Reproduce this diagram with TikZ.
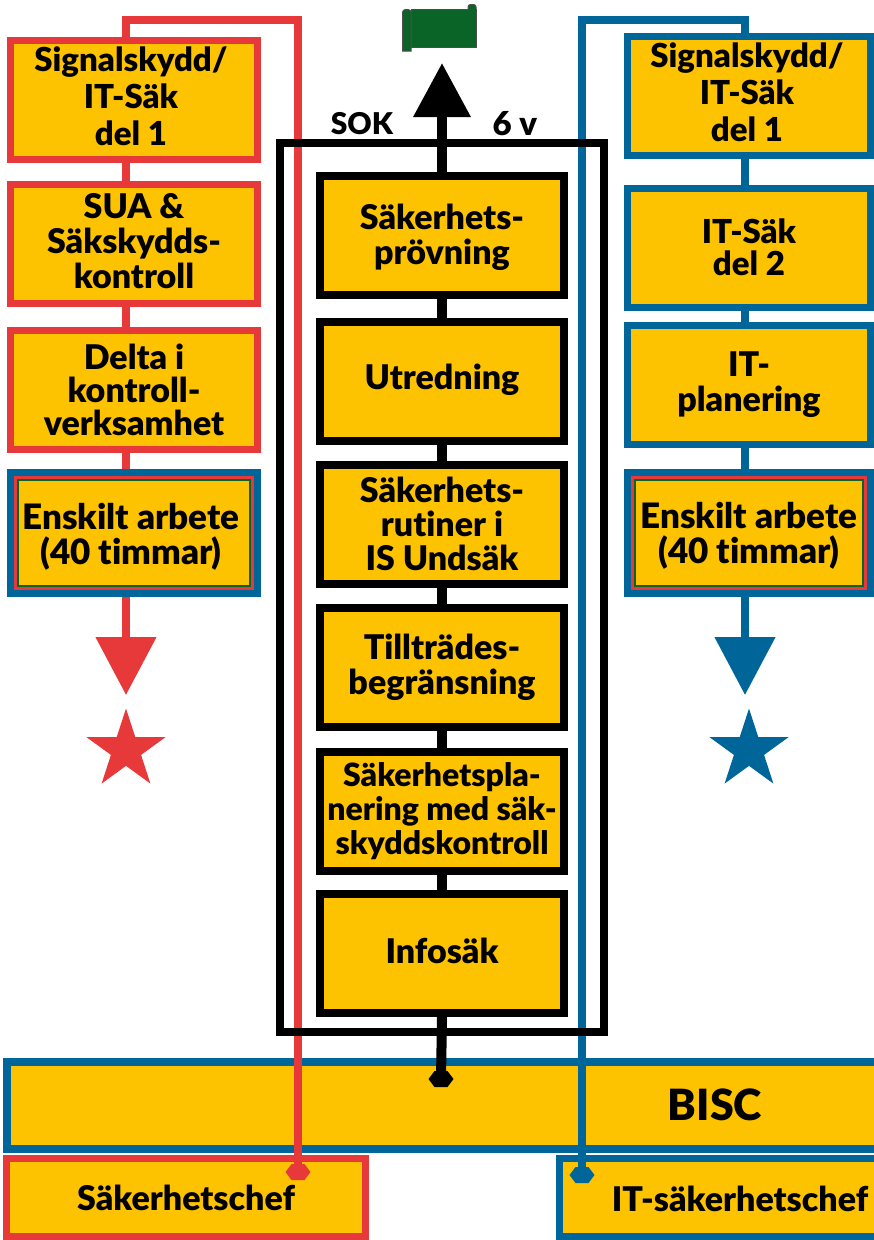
\documentclass[tikz,border=0pt]{standalone}
\usepackage{fontspec}
\setmainfont{Lato}[BoldFont={Lato Black},Ligatures=NoCommon]
\usepackage{xcolor}
\usetikzlibrary{arrows.meta,shapes.geometric}
\definecolor{gul}{RGB}{253,195,0}
\definecolor{rod}{RGB}{232,57,58}
\definecolor{bla}{RGB}{0,102,153}
\definecolor{gron}{RGB}{10,100,40}
\tikzset{
	box/.style={draw,fill=gul,line width=7pt,align=center,inner sep=0pt,font=\bfseries\fontsize{34}{35}\selectfont},
	redbox/.style={box,draw=rod,minimum width=247pt,minimum height=119pt},
	blubox/.style={box,draw=bla,minimum width=243pt,minimum height=119pt},
	midbox/.style={box,draw=black,line width=8pt,minimum width=244pt,minimum height=119pt},
	thinred/.style={box,draw=rod,line width=3pt},
	thingreen/.style={box,draw=gron,line width=2pt},
	redline/.style={draw=rod,line width=8pt},
	bluline/.style={draw=bla,line width=8pt},
	blkline/.style={draw=black,line width=10pt},
	hexa/.style={insert path={++(-12.5,0) -- ++(6,-8) -- ++(13,0) -- ++(6,8) -- ++(-6,8) -- ++(-13,0) -- cycle}},
	stern/.style={star,star points=5,star point ratio=2.618,minimum size=83pt,inner sep=0pt},
	label/.style={inner sep=0pt,align=center,font=\bfseries\fontsize{34}{35}\selectfont},
	scroll/.style={fill=gron,draw=black!70,line width=1pt},
}
\begin{document}
\begin{tikzpicture}[x=1pt,y=-1pt]
	\useasboundingbox (0,0) rectangle (874,1240);
	\clip (0,0) rectangle (874,1240);
	% band and the two chiefs
	\node[box,draw=bla,line width=8pt,minimum width=1000pt,minimum height=87pt] (bisc) at (507,1105.5) {};
	\node[label,font=\bfseries\fontsize{43}{43}\selectfont] (bisctext) at (715,1105) {BISC};
	\node[box,draw=rod,minimum width=359pt,minimum height=78pt] (sakchef) at (186,1197.5) {Säkerhetschef};
	\node[box,draw=bla,minimum width=500pt,minimum height=78pt] (itchef) at (809.5,1197.5) {};
	\node[label] (ittext) at (740,1199) {IT-säkerhetschef};
	\coordinate (redhex) at (298,1172);
	\coordinate (bluhex) at (582,1175);
	\coordinate (blkhex) at (441,1079);
	\fill[rod] (redhex) [hexa];
	\fill[bla] (bluhex) [hexa];
	\fill[black] (blkhex) [hexa];
	% long lines
	\coordinate (redx) at (126,0);
	\coordinate (blux) at (745,0);
	\coordinate (redup) at (298,20);
	\coordinate (bluup) at (582,20);
	\draw[redline] (redhex) -- (redup) -- (redup -| redx) -- (redx |- 0,45);
	\draw[bluline] (bluhex) -- (bluup) -- (bluup -| blux) -- (blux |- 0,45);
	% frame
	\node[draw=black,line width=8pt,minimum width=324pt,minimum height=889pt,inner sep=0pt] (frame) at (442,587) {};
	\node[label,font=\bfseries\fontsize{30}{30}\selectfont] (sok) at (362,124) {SOK};
	\node[label,font=\bfseries\fontsize{33}{33}\selectfont] (veckor) at (515,124) {6 v};
	% middle
	\node[midbox] (m1) at (442,235.5) {};
	\node[label] (m1text) at (442,237.5) {Säkerhets-\\prövning};
	\node[midbox] (m2) at (442,381.5) {};
	\node[label] (m2text) at (442,380) {Utredning};
	\node[midbox,font=\bfseries\fontsize{34}{34}\selectfont] (m3) at (442,524) {Säkerhets-\\rutiner i\\IS Undsäk};
	\node[midbox] (m4) at (442,667) {Tillträdes-\\begränsning};
	\node[midbox,font=\bfseries\fontsize{32}{34}\selectfont] (m5) at (442,811.5) {Säkerhetspla-\\nering med säk-\\skyddskontroll};
	\node[midbox] (m6) at (442,953) {};
	\node[label] (m6text) at (442,951) {Infosäk};
	\foreach \a/\b in {m1/m2,m2/m3,m3/m4,m4/m5,m5/m6}
		\draw[blkline] (\a.south) -- (\b.north);
	\draw[blkline] (m6.south) -- (blkhex);
	\coordinate (blktip) at (442,63);
	\draw[blkline,-{Triangle[length=54pt,width=55pt]}] (m1.north) -- (blktip);
	% left column
	\node[redbox] (r1) at (134,100) {};
	\node[label,font=\bfseries\fontsize{33}{37}\selectfont] (r1text) at (131,96) {Signalskydd/\\IT-Säk\\del 1};
	\node[redbox] (r2) at (134,243.5) {};
	\node[label] (r2text) at (134,241) {SUA \&\\Säkskydds-\\kontroll};
	\node[redbox,font=\bfseries\fontsize{34}{33}\selectfont] (r3) at (134,390) {Delta i\\kontroll-\\verksamhet};
	\node[box,draw=bla,minimum width=247pt,minimum height=121pt] (re) at (134,533) {};
	\node[thinred,minimum width=237pt,minimum height=111pt] at (re.center) (rea) {};
	\node[thingreen,minimum width=232pt,minimum height=106pt] at (re.center) (reb) {};
	\node[label,font=\bfseries\fontsize{35}{35}\selectfont] (retext) at (131,537) {Enskilt arbete\\(40 timmar)};
	\foreach \a/\b in {r1/r2,r2/r3,r3/re}
		\draw[redline] (\a.south -| redx) -- (\b.north -| redx);
	\coordinate (redtip) at (126,695);
	\draw[redline,-{Triangle[length=58pt,width=59pt]}] (re.south -| redx) -- (redtip);
	\node[stern,fill=rod] (redstar) at (126,750) {};
	% right column
	\node[blubox] (b1) at (749,96) {};
	\node[label,font=\bfseries\fontsize{33}{37}\selectfont] (b1text) at (747,92) {Signalskydd/\\IT-Säk\\del 1};
	\node[blubox,font=\bfseries\fontsize{33}{32}\selectfont] (b2) at (749,247.5) {IT-Säk\\del 2};
	\node[blubox] (b3) at (749,385) {};
	\node[label] (b3text) at (749,385) {IT-\\planering};
	\node[box,draw=bla,minimum width=243pt,minimum height=121pt] (be) at (749,533) {};
	\node[thinred,minimum width=233pt,minimum height=111pt] at (be.center) (bea) {};
	\node[thingreen,minimum width=228pt,minimum height=106pt] at (be.center) (beb) {};
	\node[label,font=\bfseries\fontsize{35}{35}\selectfont] (betext) at (749,535.5) {Enskilt arbete\\(40 timmar)};
	\foreach \a/\b in {b1/b2,b2/b3,b3/be}
		\draw[bluline] (\a.south -| blux) -- (\b.north -| blux);
	\coordinate (blutip) at (745,695);
	\draw[bluline,-{Triangle[length=58pt,width=59pt]}] (be.south -| blux) -- (blutip);
	\node[stern,fill=bla] (blustar) at (749,750) {};
	% scroll
	\draw[scroll] (411,9.5) rectangle (476,47);
	\draw[scroll,rounded corners=3pt] (402.5,51) [sharp corners] -- (402.5,13) [rounded corners=3pt] -- (402.5,9.5) -- (411,9.5) [sharp corners] -- (411,51) -- cycle;
	\draw[scroll,rounded corners=2.5pt] (468,9.5) -- (468,4.5) -- (476,4.5) -- (476,9.5);
\end{tikzpicture}
\end{document}
